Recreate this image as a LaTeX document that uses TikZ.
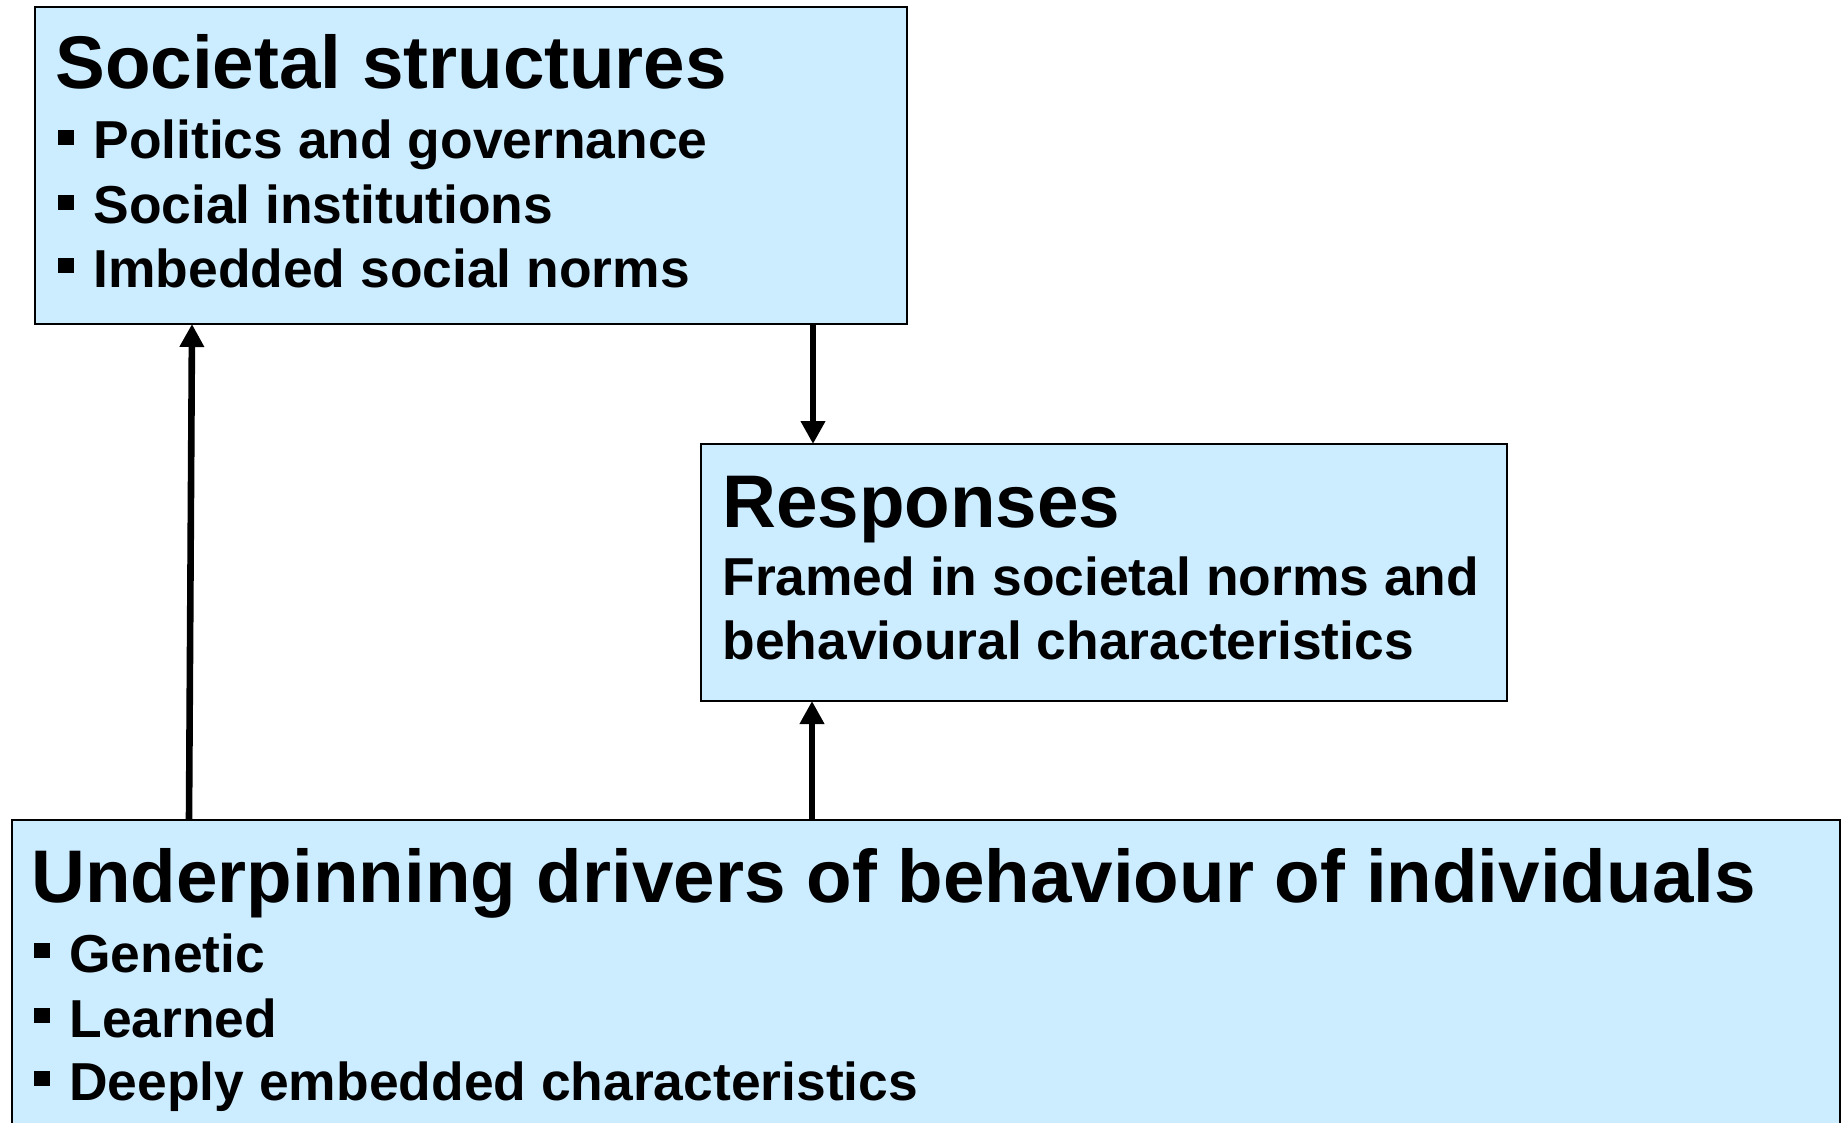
\documentclass[tikz,border=0pt]{standalone}
\usepackage{fontspec}
\setmainfont{Liberation Sans}
\usepackage{tikz}
\usetikzlibrary{arrows.meta}
\usetikzlibrary{calc}

\definecolor{boxblue}{RGB}{204,236,255}
\newcommand{\headfont}{\bfseries\fontsize{37.3}{44}\selectfont}
\newcommand{\itemfont}{\bfseries\fontsize{26.7}{32}\selectfont}
\newcommand{\sqitem}{\makebox[17.5pt][l]{\rule[7pt]{8pt}{7.5pt}}}

\begin{document}
\begin{tikzpicture}[x=0.5pt,y=-0.5pt]
      \useasboundingbox (0,0) rectangle (1845,1123);

      % the three boxes
      \begin{scope}[every node/.style={rectangle,draw=black,line width=1pt,
          fill=boxblue,outer sep=0pt,inner sep=0pt}]
        \node[minimum width=436pt,minimum height=158.5pt] (soc) at (471,165.5) {};
        \node[minimum width=403pt,minimum height=128.5pt] (resp) at (1104,572.5) {};
        \node[minimum width=914pt,minimum height=157.5pt] (under) at (926,977.5) {};
      \end{scope}

      % texts
      \begin{scope}[every node/.style={anchor=base west,inner sep=0pt}]
        \node (socT) at (55,89) {\headfont Societal structures};
        \node (soc1) at (58,159) {\itemfont\sqitem Politics and governance};
        \node (soc2) at (58,224) {\itemfont\sqitem Social institutions};
        \node (soc3) at (58,287) {\itemfont\sqitem Imbedded social norms};

        \node (respT) at (722,527) {\headfont Responses};
        \node (resp1) at (722,595) {\itemfont Framed in societal norms and};
        \node (resp2) at (722,659) {\itemfont behavioural characteristics};

        \node (underT) at (31,902) {\headfont Underpinning drivers of behaviour of individuals};
        \node (under1) at (34,972) {\itemfont\sqitem Genetic};
        \node (under2) at (34,1037) {\itemfont\sqitem Learned};
        \node (under3) at (34,1100) {\itemfont\sqitem Deeply embedded characteristics};
      \end{scope}

      \begin{scope}[>={Triangle[length=11.5pt,width=11.7pt]},
          every path/.style={draw=black,line width=3.3pt}]
        \path [->] ($(under.north west)+(177,0)$) -- ($(soc.south west)+(157,0)$);
        \path [->] ($(soc.south west)+(778,0)$) -- ($(resp.north west)+(112,0)$);
        \path [->] ($(under.north west)+(800,0)$) -- ($(resp.south west)+(111,0)$);
      \end{scope}
    \end{tikzpicture}
\end{document}
